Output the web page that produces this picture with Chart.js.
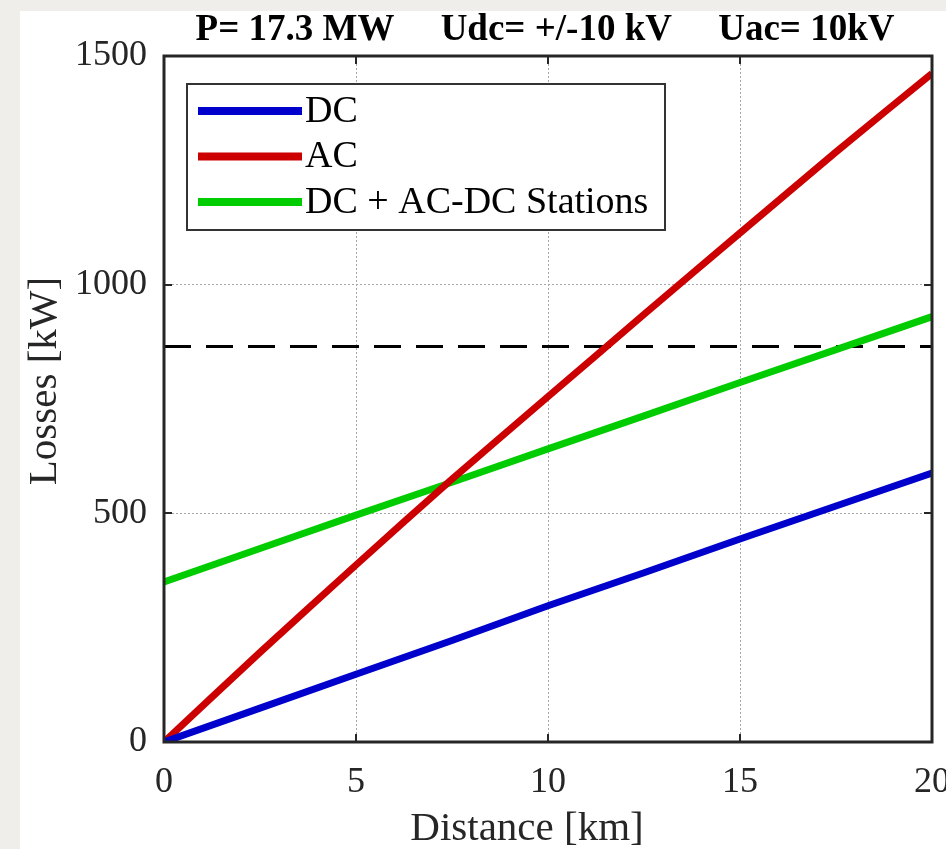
<!DOCTYPE html>
<html>
<head>
<meta charset="utf-8">
<script src="https://cdn.jsdelivr.net/npm/chart.js@4.4.1/dist/chart.umd.min.js"></script>
<style>
  html, body { margin: 0; padding: 0; background: #efeeea; overflow: hidden; }
  #panel { position: absolute; left: 20px; top: 11px; width: 926px; height: 838px; background: #fff; }
  #lossChart { display: block; }
</style>
</head>
<body>
<div id="panel"><canvas id="lossChart" width="926" height="838"></canvas></div>
<script>
// Values
const titleText = 'P= 17.3 MW     Udc= +/-10 kV     Uac= 10kV';
const xAxisTitle = 'Distance [km]';
const yAxisTitle = 'Losses [kW]';

const distanceKm = [0, 2.5, 5, 7.5, 10, 12.5, 15, 17.5, 20];
const dcLosses = [0, 74, 148, 222, 298, 370, 444, 516, 588];
const acLosses = [0, 196, 387, 575, 755, 935, 1113, 1290, 1462];
const stationLosses = [350, 423, 496, 568, 641, 713, 786, 858, 930];
const lossLimit = 865; // 5 % of P

const seriesLabels = ['DC', 'AC', 'DC + AC-DC Stations'];
const seriesColors = ['#0000cc', '#cc0000', '#00cc00'];

const xTicks = [0, 5, 10, 15, 20];
const yTicks = [0, 500, 1000, 1500];

const SERIF = '"Liberation Serif", "Times New Roman", serif';

const toPoints = (ys) => ys.map((y, i) => ({ x: distanceKm[i], y: y }));

// box, inward ticks, title, axis titles and legend (matlab look)
const matlabDecor = {
  id: 'matlabDecor',
  afterDatasetsDraw(chart) {
    const { ctx, chartArea: a, scales } = chart;
    const x = scales.x, y = scales.y;
    ctx.save();

    // inward tick marks
    ctx.strokeStyle = '#262626';
    ctx.lineWidth = 2;
    ctx.beginPath();
    xTicks.forEach(v => {
      const px = Math.round(x.getPixelForValue(v));
      ctx.moveTo(px, a.bottom); ctx.lineTo(px, a.bottom - 8);
      ctx.moveTo(px, a.top); ctx.lineTo(px, a.top + 8);
    });
    yTicks.forEach(v => {
      const py = Math.round(y.getPixelForValue(v));
      ctx.moveTo(a.left, py); ctx.lineTo(a.left + 8, py);
      ctx.moveTo(a.right, py); ctx.lineTo(a.right - 8, py);
    });
    ctx.stroke();

    // axes box
    ctx.lineWidth = 3;
    ctx.strokeRect(a.left, a.top, a.right - a.left, a.bottom - a.top);

    // legend
    const lx = a.left + 23, ly = a.top + 28, lw = 478, lh = 146;
    ctx.fillStyle = '#fff';
    ctx.fillRect(lx, ly, lw, lh);
    ctx.lineWidth = 2;
    ctx.strokeStyle = '#333';
    ctx.strokeRect(lx, ly, lw, lh);
    ctx.font = '38px ' + SERIF;
    ctx.textBaseline = 'middle';
    ctx.textAlign = 'left';
    seriesLabels.forEach((label, i) => {
      const ry = ly + 27 + i * 45.5;
      ctx.strokeStyle = seriesColors[i];
      ctx.lineWidth = 8;
      ctx.beginPath();
      ctx.moveTo(lx + 11, ry); ctx.lineTo(lx + 115, ry);
      ctx.stroke();
      ctx.fillStyle = '#000';
      ctx.fillText(label, lx + 118, ry + 1);
    });

    // title
    ctx.fillStyle = '#000';
    ctx.textAlign = 'center';
    ctx.font = 'bold 37px ' + SERIF;
    ctx.fillText(titleText, (a.left + a.right) / 2 - 3, 19);

    // axis titles
    ctx.fillStyle = '#262626';
    ctx.font = '41px ' + SERIF;
    ctx.fillText(xAxisTitle, (a.left + a.right) / 2 - 21, 818);
    ctx.translate(25, (a.top + a.bottom) / 2 - 18);
    ctx.rotate(-Math.PI / 2);
    ctx.fillText(yAxisTitle, 0, 0);
    ctx.restore();
  }
};

const gridColor = (ctx) => {
  const v = ctx.tick && ctx.tick.value;
  return (v === 0 || v === 20 || v === 1500) ? 'rgba(0,0,0,0)' : '#a8a8a8';
};

new Chart(document.getElementById('lossChart'), {
  type: 'line',
  data: {
    datasets: [
      {
        label: seriesLabels[0],
        data: toPoints(dcLosses),
        borderColor: seriesColors[0],
        borderWidth: 7,
        pointRadius: 0,
        borderCapStyle: 'butt'
      },
      {
        label: seriesLabels[1],
        data: toPoints(acLosses),
        borderColor: seriesColors[1],
        borderWidth: 7,
        pointRadius: 0,
        tension: 0.2,
        borderCapStyle: 'butt'
      },
      {
        label: seriesLabels[2],
        data: toPoints(stationLosses),
        borderColor: seriesColors[2],
        borderWidth: 7,
        pointRadius: 0,
        borderCapStyle: 'butt'
      },
      {
        label: 'limit',
        data: [
          { x: distanceKm[0], y: lossLimit },
          { x: distanceKm[distanceKm.length - 1], y: lossLimit }
        ],
        borderColor: '#000',
        borderWidth: 3,
        borderDash: [27, 15],
        pointRadius: 0
      }
    ]
  },
  options: {
    responsive: false,
    animation: false,
    events: [],
    layout: { padding: { top: 45, right: 14, bottom: 0, left: 0 } },
    plugins: {
      legend: { display: false },
      title: { display: false },
      tooltip: { enabled: false }
    },
    scales: {
      x: {
        type: 'linear',
        min: 0,
        max: 20,
        afterBuildTicks: (s) => { s.ticks = xTicks.map(v => ({ value: v })); },
        afterFit: (s) => { s.height = 107; s.paddingLeft = 0; s.paddingRight = 0; },
        grid: { color: gridColor, lineWidth: 1, drawTicks: false },
        border: { display: false, dash: [2, 2] },
        ticks: {
          color: '#262626',
          padding: 19,
          maxRotation: 0,
          callback: (v) => String(v),
          font: { family: SERIF, size: 36 }
        }
      },
      y: {
        type: 'linear',
        min: 0,
        max: 1500,
        afterBuildTicks: (s) => { s.ticks = yTicks.map(v => ({ value: v })); },
        afterFit: (s) => { s.width = 144; s.paddingTop = 0; s.paddingBottom = 0; },
        grid: { color: gridColor, lineWidth: 1, drawTicks: false },
        border: { display: false, dash: [2, 2] },
        ticks: {
          color: '#262626',
          padding: 17,
          callback: (v) => String(v),
          font: { family: SERIF, size: 36 }
        }
      }
    }
  },
  plugins: [matlabDecor]
});
</script>
</body>
</html>
